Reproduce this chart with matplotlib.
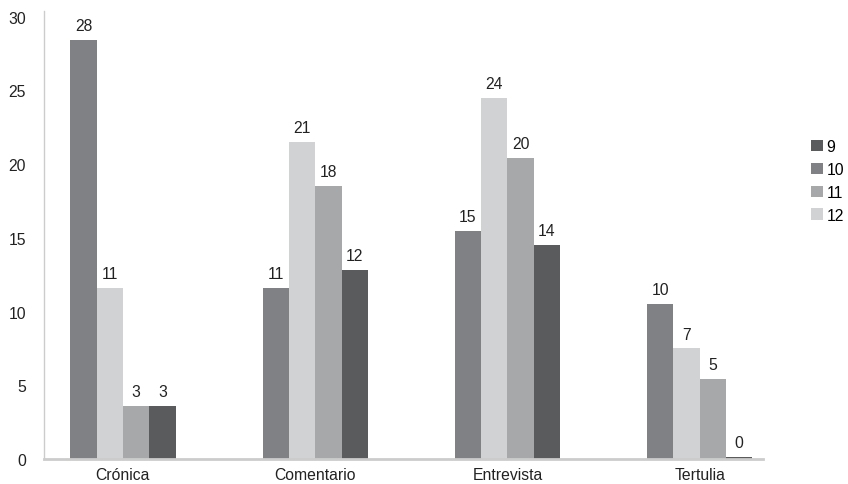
import matplotlib.pyplot as plt
import numpy as np
from matplotlib.patches import Patch

categories = ["Crónica", "Comentario", "Entrevista", "Tertulia"]

# series in the order they sit inside each group
series_names = ["10", "12", "11", "9"]
series_values = {
    "10": [28.4, 11.6, 15.5, 10.5],
    "12": [11.6, 21.5, 24.5, 7.5],
    "11": [3.6, 18.5, 20.4, 5.4],
    "9": [3.6, 12.8, 14.5, 0.15],
}
colors = {"9": "#5a5b5d", "10": "#808184", "11": "#a7a8aa", "12": "#d1d2d4"}
legend_order = ["9", "10", "11", "12"]
y_ticks = [0, 5, 10, 15, 20, 25, 30]

plt.rcParams["font.family"] = ["Liberation Sans", "DejaVu Sans"]
fs = 11.3

fig = plt.figure(figsize=(8.48, 4.85), dpi=100)
ax = fig.add_axes([0.052, 0.0515, 0.848, 0.924])

x = np.arange(len(categories))
w = 0.137
for i, name in enumerate(series_names):
    offs = (i - 1.5) * w
    vals = series_values[name]
    bars = ax.bar(x + offs, vals, w, color=colors[name], linewidth=0)
    for b, v in zip(bars, vals):
        ax.annotate(str(int(v)), (b.get_x() + b.get_width() / 2, v),
                    xytext=(0, 5), textcoords="offset points",
                    ha="center", va="bottom", fontsize=fs, color="#222222")

ax.set_xlim(-0.41, 3.33)
ax.set_ylim(0, 30.4)
ax.set_yticks(y_ticks)
ax.set_xticks(x)
ax.set_xticklabels(categories)
ax.tick_params(axis="both", length=0, labelsize=fs, colors="#222222")
ax.tick_params(axis="y", pad=13)
ax.tick_params(axis="x", pad=6)

for s in ["top", "right"]:
    ax.spines[s].set_visible(False)
ax.spines["left"].set_color("#cccccc")
ax.spines["left"].set_linewidth(1.0)
ax.spines["bottom"].set_color("#cccccc")
ax.spines["bottom"].set_linewidth(2.0)

handles = [Patch(facecolor=colors[n], edgecolor="none") for n in legend_order]
fig.legend(handles, legend_order, loc="upper left", bbox_to_anchor=(0.956, 0.711),
           frameon=False, fontsize=fs, handlelength=0.76, handleheight=0.76,
           handletextpad=0.25, labelspacing=0.5, borderpad=0, borderaxespad=0)

fig.savefig("out.png", dpi=100, facecolor="white")
